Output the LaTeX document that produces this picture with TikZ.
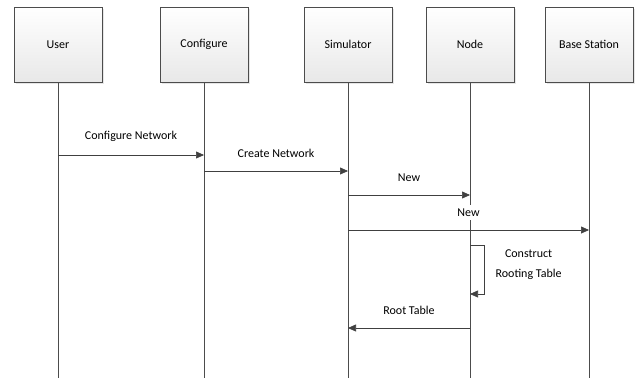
\documentclass[tikz,border=0pt]{standalone}
\usepackage{fontspec}
\setmainfont{Carlito}
\usetikzlibrary{arrows.meta,shadows}
\tikzset{
  actor/.style={draw=black!70,minimum width=88pt,minimum height=75pt,
    top color=white,bottom color=black!9,
    drop shadow={opacity=0.2,shadow xshift=1.5pt,shadow yshift=-1.5pt}},
  life/.style={draw=black!70},
  msg/.style={draw=black!75,semithick,-{Triangle[length=8pt,width=7pt]}},
  msglabel/.style={above=10pt,midway},
}
\begin{document}
\begin{tikzpicture}[x=1pt,y=-1pt,font=\fontsize{12}{20}\selectfont]
    \useasboundingbox (0,0) rectangle (635,381);
    \def\ytop{44.5} \def\ybot{378}
    % actors
    \node [actor] (user) at (58,\ytop) {User};
    \node [actor] (conf) at (204,\ytop) {Configure};
    \node [actor] (sim) at (348,\ytop) {Simulator};
    \node [actor] (node) at (470,\ytop) {Node};
    \node [actor] (base) at (589,\ytop) {Base Station};
    % lifelines
    \foreach \a/\x in {user/58,conf/204,sim/348,node/470,base/589}{
        \coordinate (\a end) at (\x,\ybot);
        \draw [life] (\a) -- (\a end);
    }
    % message points
    \coordinate (m1a) at (58,155);  \coordinate (m1b) at (204,155);
    \coordinate (m2a) at (204,171); \coordinate (m2b) at (348,171);
    \coordinate (m3a) at (348,195); \coordinate (m3b) at (470,195);
    \coordinate (m4a) at (348,230); \coordinate (m4b) at (589,230);
    \coordinate (s1) at (470,245);  \coordinate (s2) at (470,294);
    \coordinate (m5a) at (470,328); \coordinate (m5b) at (348,328);
    % messages
    \draw [msg] (m1a) -- node [msglabel]{Configure Network} (m1b);
    \draw [msg] (m2a) -- node [msglabel]{Create Network} (m2b);
    \draw [msg] (m3a) -- node [msglabel]{New} (m3b);
    \draw [msg] (m4a) -- node [msglabel,fill=white]{New} (m4b);
    \draw [msg] (s1) -- ++(14,0) |- node [pos=0.25,right=8pt,yshift=5pt,align=center]{Construct\\Rooting Table} (s2);
    \draw [msg] (m5a) -- node [msglabel]{Root Table} (m5b);
\end{tikzpicture}
\end{document}
